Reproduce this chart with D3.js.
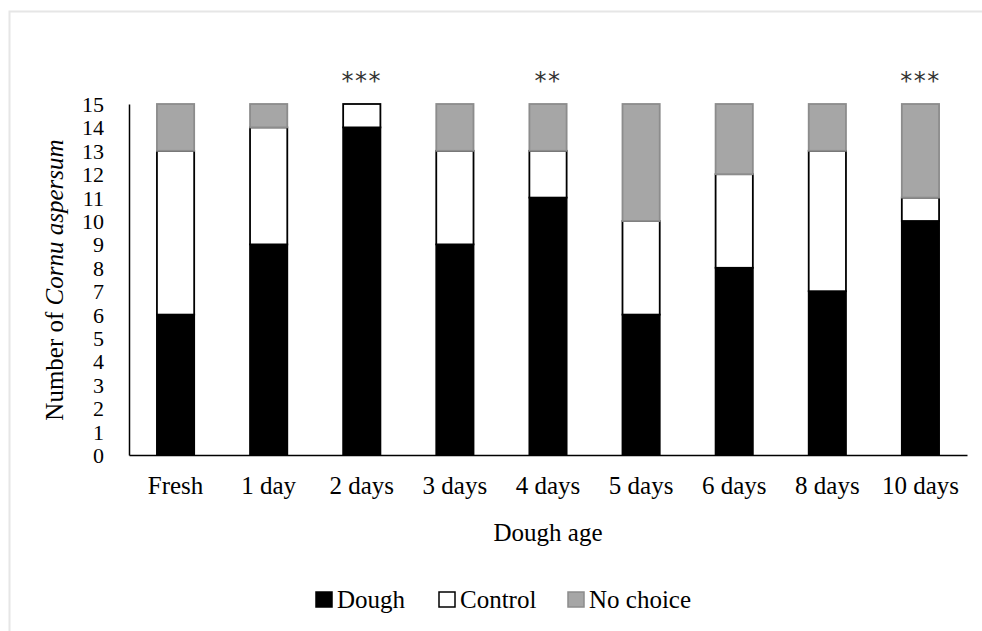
<!DOCTYPE html>
<html><head><meta charset="utf-8">
<script src="https://cdn.jsdelivr.net/npm/d3@7"></script>
<style>body{margin:0;background:#fff}svg{display:block}</style>
</head><body>
<script>
const categories = ["Fresh","1 day","2 days","3 days","4 days","5 days","6 days","8 days","10 days"];
const dough    = [6, 9, 14, 9, 11, 6, 8, 7, 10];
const control  = [7, 5, 1, 4, 2, 4, 4, 6, 1];
const noChoice = [2, 1, 0, 2, 2, 5, 3, 2, 4];
const stars    = ["", "", "***", "", "**", "", "", "", "***"];
const yTicks   = d3.range(0, 16);
const seriesNames = ["Dough","Control","No choice"];

const W = 982, H = 631;
const font = "'Liberation Serif', 'DejaVu Serif', serif";
const svg = d3.select("body").append("svg").attr("width", W).attr("height", H);
// faint frame (top and left only visible)
svg.append("path").attr("d", "M9.5,631 V11.5 H982").attr("fill", "none")
  .attr("stroke", "#e6e6e6").attr("stroke-width", 2);

const x = d3.scaleBand().domain(categories).range([129, 967]).paddingInner(0.6).paddingOuter(0.3);
const y = d3.scaleLinear().domain([0, 15]).range([455, 104]);

const rows = categories.map((c, i) => ({cat: c, Dough: dough[i], Control: control[i], "No choice": noChoice[i]}));
const stacked = d3.stack().keys(seriesNames)(rows);
const fills = {"Dough": "#000", "Control": "#fff", "No choice": "#a6a6a6"};
const strokes = {"Dough": "#000", "Control": "#000", "No choice": "#8c8c8c"};

const g = svg.append("g");
stacked.forEach(s => {
  g.selectAll(null).data(s.filter(d => d[1] > d[0])).enter().append("rect")
    .attr("x", d => x(d.data.cat))
    .attr("width", x.bandwidth())
    .attr("y", d => y(d[1]))
    .attr("height", d => y(d[0]) - y(d[1]))
    .attr("fill", fills[s.key])
    .attr("stroke", strokes[s.key])
    .attr("stroke-width", 1.8);
});

// axes
const yAxis = svg.append("g").attr("transform", "translate(129,0)")
  .call(d3.axisLeft(y).tickValues(yTicks).tickSize(0).tickPadding(25));
yAxis.select(".domain").attr("stroke", "#000").attr("stroke-width", 1.5);
yAxis.selectAll("text").attr("font-family", font).attr("font-size", 22).attr("fill", "#000").attr("dy", "0.34em");

const xAxis = svg.append("g").attr("transform", "translate(0,455)")
  .call(d3.axisBottom(x).tickSize(0).tickPadding(26));
xAxis.select(".domain").attr("stroke", "#000").attr("stroke-width", 1.5);
xAxis.selectAll("text").attr("font-family", font).attr("font-size", 25).attr("fill", "#000").attr("dy", "0.5em");

// stars
svg.selectAll(null).data(categories.map((c, i) => ({c, s: stars[i]})).filter(d => d.s)).enter()
  .append("text").attr("x", d => x(d.c) + x.bandwidth() / 2).attr("y", 89)
  .attr("text-anchor", "middle").attr("font-family", "'DejaVu Sans', sans-serif").attr("font-size", 24)
  .attr("letter-spacing", 1.5).attr("fill", "#333").text(d => d.s);

// axis titles
svg.append("text").attr("x", 548).attr("y", 541).attr("text-anchor", "middle")
  .attr("font-family", font).attr("font-size", 25).text("Dough age");
const yt = svg.append("text").attr("transform", "translate(63,280) rotate(-90)").attr("text-anchor", "middle")
  .attr("font-family", font).attr("font-size", 25);
yt.append("tspan").text("Number of ");
yt.append("tspan").attr("font-style", "italic").text("Cornu aspersum");

// legend
const legX = [316, 439, 568];
const leg = svg.append("g");
seriesNames.forEach((n, i) => {
  leg.append("rect").attr("x", legX[i]).attr("y", 592).attr("width", 16).attr("height", 15)
    .attr("fill", fills[n]).attr("stroke", strokes[n]).attr("stroke-width", 1.5);
  leg.append("text").attr("x", legX[i] + 21).attr("y", 608).attr("font-family", font)
    .attr("font-size", 25).text(n);
});
</script>
</body></html>
